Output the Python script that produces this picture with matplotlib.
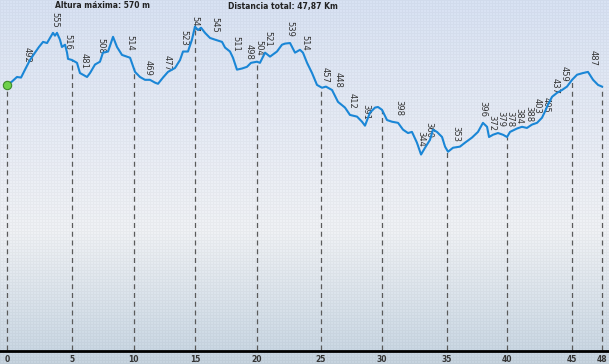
import numpy as np
import matplotlib
matplotlib.use("Agg")
import matplotlib.pyplot as plt

# elevation profile (km, m)
dist_km = [0.00, 0.40, 0.80, 1.13, 1.45, 1.85, 2.25, 2.57, 2.90, 3.22, 3.46, 3.70, 3.86, 4.02,
           4.26, 4.42, 4.67, 4.83, 4.91, 5.23, 5.63, 5.87, 6.44, 6.68, 7.08, 7.48, 7.72, 8.13,
           8.53, 8.85, 9.25, 9.65, 9.90, 10.30, 10.70, 11.10, 11.50, 11.91, 12.15, 12.55, 12.95,
           13.52, 13.92, 14.16, 14.56, 14.88, 15.12, 15.37, 15.61, 15.93, 16.33, 16.73, 17.30,
           17.54, 17.94, 18.18, 18.50, 18.91, 19.31, 19.63, 20.11, 20.35, 20.76, 21.16, 21.72,
           22.12, 22.37, 22.77, 23.17, 23.57, 23.81, 24.14, 24.54, 24.94, 25.34, 25.66, 26.15,
           26.63, 27.19, 27.59, 28.16, 28.56, 28.80, 29.20, 29.61, 29.85, 30.17, 30.57, 30.97,
           31.46, 31.86, 32.26, 32.58, 32.98, 33.31, 33.63, 34.03, 34.27, 34.59, 35.00, 35.24,
           35.48, 35.88, 36.44, 36.85, 37.41, 37.89, 38.29, 38.62, 38.78, 39.10, 39.50, 39.90,
           40.23, 40.47, 41.03, 41.43, 41.83, 42.24, 42.64, 43.04, 43.28, 43.52, 43.85, 44.25,
           44.65, 45.05, 45.46, 45.86, 46.34, 46.74, 47.15, 47.55, 47.87]
elev_m = [468, 474, 482, 481, 495, 512, 525, 535, 544, 542, 551, 560, 555, 560,
          548, 535, 539, 525, 514, 512, 507, 489, 482, 489, 504, 509, 525, 527,
          553, 535, 521, 518, 516, 491, 482, 477, 477, 472, 470, 481, 491,
          498, 512, 527, 527, 548, 571, 565, 569, 560, 551, 548, 544,
          534, 527, 516, 495, 497, 500, 507, 509, 507, 525, 518, 527,
          539, 541, 542, 525, 530, 525, 507, 489, 468, 463, 465, 459,
          438, 428, 415, 412, 403, 396, 419, 428, 429, 424, 406, 403,
          401, 389, 383, 385, 366, 345, 357, 371, 389, 385, 376, 359,
          350, 357, 359, 366, 375, 385, 401, 394, 376, 380, 383, 380,
          376, 385, 391, 394, 392, 398, 401, 410, 421, 433, 447, 454,
          459, 465, 477, 486, 489, 491, 477, 468, 465]

# point labels along the track
label_km = [1.61, 3.86, 4.91, 6.19, 7.56, 9.90, 11.34, 12.87, 14.24, 15.12, 16.73, 18.42,
            19.47, 20.27, 21.00, 22.77, 23.97, 25.58, 26.63, 27.76, 28.88, 31.54, 33.31,
            33.95, 36.12, 38.30, 39.02, 39.74, 40.46, 41.18, 42.00, 42.62, 43.34, 44.06,
            44.80, 47.15]
label_val = [492, 555, 516, 481, 508, 514, 469, 477, 523, 547, 545, 511,
             498, 504, 521, 539, 514, 457, 448, 412, 391, 398, 344,
             360, 353, 396, 372, 379, 378, 384, 388, 403, 405, 437,
             459, 487]

# km markers (dashed lines) and their labels
tick_km = [0.0, 5.23, 10.2, 15.12, 20.11, 25.26, 30.17, 35.4, 40.23, 45.46, 47.87]
tick_labels = ["0", "5", "10", "15", "20", "25", "30", "35", "40", "45", "48"]

W, H = 609, 364
fig = plt.figure(figsize=(W / 100, H / 100), dpi=100)

# background: vertical gradient with a fine grid texture
stops_y = [0, 180, 230, 350, 364]
stops_c = np.array([[216, 226, 243], [236, 239, 246], [240, 242, 245],
                    [203, 216, 228], [198, 211, 222]], dtype=float)
yy = np.arange(H)
grad = np.stack([np.interp(yy, stops_y, stops_c[:, i]) for i in range(3)], axis=1)
bg = np.repeat(grad[:, None, :], W, axis=1)
mask = (np.arange(H)[:, None] % 3 == 0) | (np.arange(W)[None, :] % 3 == 0)
bg[mask] -= 7
bg_ax = fig.add_axes([0, 0, 1, 1])
bg_ax.imshow(np.clip(bg, 0, 255) / 255.0, aspect="auto", interpolation="nearest")
bg_ax.axis("off")

ax = fig.add_axes([0, 13 / H, 1, 351 / H])
ax.set_facecolor("none")
ax.set_xlim(-7 / 12.43, (W - 7) / 12.43)
ax.set_ylim(-2, 618)

ax.vlines(tick_km, 0, np.interp(tick_km, dist_km, elev_m), colors="#5a5a5a",
          linestyles=(0, (4, 3)), linewidth=0.9, zorder=2)
ax.plot(dist_km, elev_m, color="#1a86d6", linewidth=1.5, zorder=3)
ax.plot(dist_km[0], elev_m[0], "o", ms=6, mfc="#6ed14a", mec="#3c8a28", mew=0.8, zorder=4)

for k, v in zip(label_km, label_val):
    ax.annotate(str(v), (k, v), xytext=(0, 6), textcoords="offset points",
                rotation=270, ha="center", va="bottom", fontsize=6, color="#333333", zorder=2)

ax.set_xticks(tick_km)
ax.set_xticklabels(tick_labels, fontsize=5.5, fontweight="bold", color="#333333")
ax.tick_params(axis="x", length=0, pad=3)
ax.set_yticks([])
for s in ["top", "left", "right"]:
    ax.spines[s].set_visible(False)
ax.spines["bottom"].set_linewidth(2)
ax.spines["bottom"].set_color("black")

fig.text(55 / W, 1 - 6 / H, "Altura máxima: 570 m", fontsize=5.5, fontweight="bold",
         color="#222222", va="center", ha="left")
fig.text(228 / W, 1 - 6 / H, "Distancia total: 47,87 Km", fontsize=5.5, fontweight="bold",
         color="#222222", va="center", ha="left")

fig.savefig("out.png", dpi=100)
